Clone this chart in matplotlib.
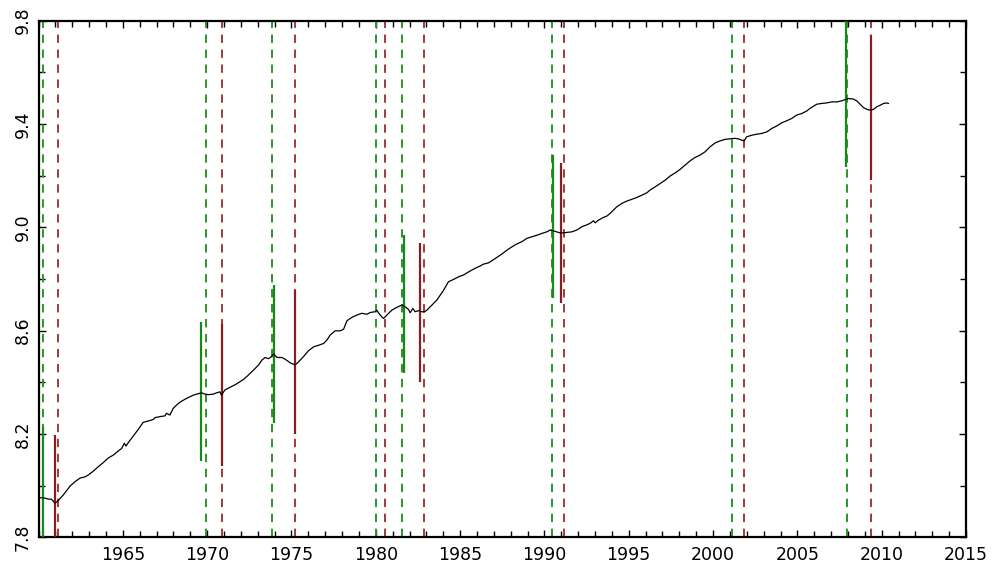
import matplotlib
matplotlib.use("Agg")
import matplotlib.pyplot as plt
from matplotlib.ticker import MultipleLocator, FixedLocator

# ---- data ----
years = [1960.00, 1960.28, 1960.58, 1960.78, 1960.98, 1961.17, 1961.47, 1961.87, 1962.16, 1962.46,
         1962.76, 1962.95, 1963.25, 1963.54, 1963.84, 1964.14, 1964.43, 1964.73, 1964.93, 1965.09,
         1965.19, 1965.32, 1965.62, 1965.92, 1966.21, 1966.51, 1966.80, 1966.90, 1967.20, 1967.50,
         1967.59, 1967.79, 1967.99, 1968.19, 1968.39, 1968.68, 1968.98, 1969.18, 1969.37, 1969.67,
         1969.87, 1970.07, 1970.36, 1970.56, 1970.76, 1970.85, 1971.05, 1971.35, 1971.70, 1972.16,
         1972.45, 1972.75, 1973.05, 1973.25, 1973.44, 1973.64, 1973.84, 1973.94, 1974.14, 1974.43,
         1974.63, 1974.93, 1975.22, 1975.42, 1975.71, 1976.01, 1976.31, 1976.60, 1976.90, 1977.10,
         1977.30, 1977.59, 1977.89, 1978.09, 1978.19, 1978.29, 1978.58, 1978.88, 1979.18, 1979.47,
         1979.67, 1979.96, 1980.06, 1980.16, 1980.36, 1980.46, 1980.66, 1980.95, 1981.25, 1981.55,
         1981.74, 1981.94, 1982.04, 1982.20, 1982.33, 1982.53, 1982.73, 1982.87, 1983.03, 1983.33,
         1983.62, 1983.82, 1984.01, 1984.31, 1984.61, 1984.90, 1985.20, 1985.50, 1985.70, 1985.89,
         1986.19, 1986.38, 1986.68, 1986.88, 1987.18, 1987.47, 1987.77, 1988.07, 1988.36, 1988.66,
         1988.96, 1989.25, 1989.55, 1989.85, 1990.14, 1990.34, 1990.53, 1990.73, 1990.93, 1991.13,
         1991.33, 1991.62, 1991.92, 1992.22, 1992.51, 1992.71, 1992.91, 1993.01, 1993.20, 1993.50,
         1993.70, 1993.89, 1994.09, 1994.29, 1994.59, 1994.88, 1995.18, 1995.48, 1995.77, 1996.07,
         1996.27, 1996.56, 1996.86, 1997.16, 1997.45, 1997.75, 1998.05, 1998.34, 1998.64, 1998.93,
         1999.23, 1999.53, 1999.82, 2000.12, 2000.41, 2000.71, 2001.01, 2001.30, 2001.50, 2001.70,
         2001.84, 2002.00, 2002.29, 2002.59, 2002.89, 2003.19, 2003.48, 2003.78, 2004.07, 2004.37,
         2004.67, 2004.96, 2005.26, 2005.56, 2005.75, 2005.95, 2006.15, 2006.44, 2006.74, 2007.04,
         2007.34, 2007.63, 2007.83, 2008.03, 2008.32, 2008.52, 2008.72, 2008.92, 2009.12, 2009.31,
         2009.51, 2009.71, 2009.91, 2010.11, 2010.30, 2010.40]
log_level = [7.953, 7.953, 7.948, 7.947, 7.932, 7.942, 7.964, 7.998, 8.015, 8.029,
             8.034, 8.041, 8.056, 8.073, 8.089, 8.107, 8.118, 8.134, 8.144, 8.164,
             8.153, 8.166, 8.192, 8.218, 8.245, 8.250, 8.256, 8.263, 8.267, 8.270,
             8.280, 8.273, 8.299, 8.312, 8.323, 8.334, 8.344, 8.350, 8.354, 8.359,
             8.354, 8.352, 8.354, 8.359, 8.363, 8.350, 8.370, 8.380, 8.392, 8.411,
             8.428, 8.447, 8.467, 8.486, 8.496, 8.491, 8.501, 8.509, 8.496, 8.496,
             8.489, 8.475, 8.467, 8.479, 8.499, 8.522, 8.537, 8.543, 8.550, 8.563,
             8.583, 8.599, 8.599, 8.605, 8.621, 8.638, 8.651, 8.660, 8.667, 8.663,
             8.670, 8.673, 8.679, 8.669, 8.653, 8.647, 8.660, 8.679, 8.690, 8.699,
             8.692, 8.682, 8.669, 8.686, 8.673, 8.677, 8.673, 8.672, 8.679, 8.699,
             8.718, 8.737, 8.755, 8.789, 8.798, 8.808, 8.815, 8.827, 8.834, 8.841,
             8.850, 8.857, 8.862, 8.870, 8.883, 8.896, 8.911, 8.924, 8.935, 8.944,
             8.957, 8.963, 8.969, 8.976, 8.982, 8.989, 8.986, 8.982, 8.978, 8.978,
             8.980, 8.982, 8.989, 9.002, 9.009, 9.015, 9.025, 9.017, 9.027, 9.038,
             9.043, 9.053, 9.066, 9.079, 9.092, 9.101, 9.108, 9.115, 9.124, 9.133,
             9.144, 9.156, 9.169, 9.182, 9.198, 9.210, 9.224, 9.240, 9.257, 9.270,
             9.279, 9.292, 9.311, 9.326, 9.334, 9.340, 9.342, 9.344, 9.342, 9.337,
             9.334, 9.350, 9.356, 9.360, 9.363, 9.369, 9.382, 9.392, 9.404, 9.412,
             9.421, 9.434, 9.440, 9.450, 9.460, 9.468, 9.476, 9.479, 9.481, 9.485,
             9.485, 9.489, 9.494, 9.498, 9.496, 9.489, 9.476, 9.463, 9.456, 9.453,
             9.456, 9.466, 9.472, 9.479, 9.481, 9.479]

# reference cycle dates (dashed lines)
peak_dates = [1960.28, 1969.95, 1973.86, 1980.02, 1981.56, 1990.46, 2001.13, 2007.94]
trough_dates = [1961.17, 1970.90, 1975.22, 1980.55, 1982.87, 1991.17, 2001.84, 2009.37]

# estimated turning points (solid bars) with their ranges
peak_est = [1960.27, 1969.63, 1973.94, 1981.67, 1990.50, 2007.88]
peak_lo = [7.80, 8.095, 8.241, 8.434, 8.725, 9.234]
peak_hi = [8.225, 8.632, 8.776, 8.969, 9.279, 9.800]
trough_est = [1960.98, 1970.88, 1975.20, 1982.63, 1990.99, 2009.37]
trough_lo = [7.80, 8.077, 8.198, 8.400, 8.705, 9.182]
trough_hi = [8.196, 8.625, 8.757, 8.937, 9.248, 9.743]

x_major = [1965, 1970, 1975, 1980, 1985, 1990, 1995, 2000, 2005, 2010, 2015]
y_major = [7.8, 8.2, 8.6, 9.0, 9.4, 9.8]

# ---- drawing ----
W, H = 998, 566
fig = plt.figure(figsize=(W / 100, H / 100), dpi=100)
left, right, top, bottom = 38.5, 966, 20.5, 537.3
ax = fig.add_axes([left / W, 1 - bottom / H, (right - left) / W, (bottom - top) / H])

green_dash = "#2a962a"
red_dash = "#a33a3a"
green_solid = "#17891a"
red_solid = "#8a1c1c"

dash = (0, (4.3, 3.4))
for d in peak_dates:
    ax.axvline(d, color=green_dash, lw=1.4, ls=dash, zorder=2)
for d in trough_dates:
    ax.axvline(d, color=red_dash, lw=1.4, ls=dash, zorder=2)

ax.vlines(peak_est, peak_lo, peak_hi, colors=green_solid, lw=1.6, zorder=3)
ax.vlines(trough_est, trough_lo, trough_hi, colors=red_solid, lw=1.6, zorder=3)

ax.plot(years, log_level, color="black", lw=0.9, zorder=4)

ax.set_xlim(1960, 2015)
ax.set_ylim(7.8, 9.8)

ax.xaxis.set_major_locator(FixedLocator(x_major))
ax.xaxis.set_minor_locator(MultipleLocator(1))
ax.yaxis.set_major_locator(FixedLocator(y_major))
ax.yaxis.set_minor_locator(MultipleLocator(0.2))
ax.set_xticklabels([str(v) for v in x_major])
ax.set_yticklabels([f"{v:.1f}" for v in y_major], rotation=90, va="center")

ax.tick_params(which="both", direction="in", top=True, right=True, color="black")
ax.tick_params(which="major", length=5, width=1.0, labelsize=12.5, colors="black")
ax.tick_params(which="minor", length=4, width=1.0)
ax.tick_params(axis="x", which="major", pad=6)
ax.tick_params(axis="y", which="major", pad=5)

for s in ax.spines.values():
    s.set_linewidth(1.6)
    s.set_color("black")

fig.savefig("out.png", dpi=100)
